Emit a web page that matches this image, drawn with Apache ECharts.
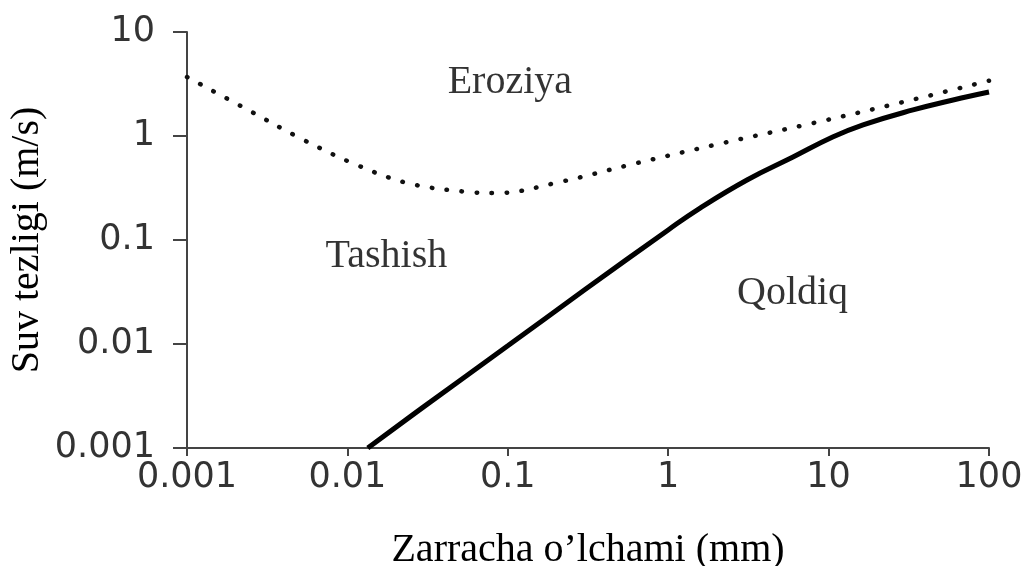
<!DOCTYPE html>
<html>
<head>
<meta charset="utf-8">
<title>Suv tezligi va zarracha o'lchami</title>
<script src="https://cdn.jsdelivr.net/npm/echarts@6/dist/echarts.min.js"></script>
<style>
  html, body { margin: 0; padding: 0; background: #fff; }
  #chart { width: 1033px; height: 566px; }
</style>
</head>
<body>
<div id="chart"></div>
<script>
// Particle size (mm) and water velocity (m/s), both on log scales.
const xTickLabels = ['0.001', '0.01', '0.1', '1', '10', '100'];
const yTickLabels = ['0.001', '0.01', '0.1', '1', '10'];

// Erosion threshold (dotted curve): [size, velocity]
const erosionCurve = [
  [0.001, 3.69], [0.00247, 1.74], [0.00492, 0.977], [0.0107, 0.55],
  [0.0236, 0.353], [0.0557, 0.29], [0.0869, 0.283], [0.211, 0.361],
  [0.604, 0.538], [2.2, 0.857], [8.0, 1.33], [29.1, 2.12], [100, 3.4]
];

// Deposition threshold (solid curve): [size, velocity]
const depositionCurve = [
  [0.0134, 0.001], [0.03, 0.0025], [0.1, 0.0096], [0.3, 0.033],
  [1, 0.125], [1.58, 0.203], [3.1, 0.378], [6.0, 0.628],
  [10.6, 0.977], [16.4, 1.28], [33.6, 1.78], [59.7, 2.22], [100, 2.65]
];

// Region names placed at [size, velocity]
const regionNames = ['Eroziya', 'Tashish', 'Qoldiq'];
const regionPositions = [[0.103, 3.24], [0.0175, 0.07], [5.96, 0.0303]];

const xName = 'Zarracha o\u2019lchami (mm)';
const yName = 'Suv tezligi (m/s)';

const serif = '"Liberation Serif", "Times New Roman", serif';
const sans = '"DejaVu Sans", sans-serif';

function tickText(labels, offset) {
  return function (v) {
    const i = Math.round(Math.log10(v)) + offset;
    return labels[i] !== undefined ? labels[i] : '';
  };
}

const chart = echarts.init(document.getElementById('chart'), null, { renderer: 'canvas' });

chart.setOption({
  animation: false,
  backgroundColor: '#ffffff',
  grid: { left: 187, right: 44, top: 32, bottom: 118, outerBoundsMode: 'none' },
  xAxis: {
    type: 'log',
    logBase: 10,
    min: 0.001,
    max: 100,
    name: xName,
    nameLocation: 'middle',
    nameGap: 82,
    nameMoveOverlap: false,
    nameTextStyle: { fontFamily: serif, fontSize: 40, color: '#000' },
    axisLine: { show: true, lineStyle: { color: '#444', width: 2 } },
    axisTick: { show: true, length: 8, lineStyle: { color: '#444', width: 2 } },
    minorTick: { show: false },
    splitLine: { show: false },
    axisLabel: {
      margin: 12,
      fontFamily: sans,
      fontSize: 35,
      color: '#333',
      formatter: tickText(xTickLabels, 3)
    }
  },
  yAxis: {
    type: 'log',
    logBase: 10,
    min: 0.001,
    max: 10,
    name: yName,
    nameLocation: 'middle',
    nameRotate: 90,
    nameGap: 140,
    nameMoveOverlap: false,
    nameTextStyle: { fontFamily: serif, fontSize: 40, color: '#000' },
    axisLine: { show: true, lineStyle: { color: '#444', width: 2 } },
    axisTick: { show: true, length: 14, lineStyle: { color: '#444', width: 2 } },
    minorTick: { show: false },
    splitLine: { show: false },
    axisLabel: {
      margin: 32,
      fontFamily: sans,
      fontSize: 35,
      color: '#333',
      formatter: tickText(yTickLabels, 3)
    }
  },
  series: [
    {
      name: 'Eroziya chegarasi',
      type: 'line',
      data: erosionCurve,
      smooth: 0.35,
      showSymbol: false,
      symbol: 'none',
      lineStyle: { color: '#111', width: 4.5, type: [0.5, 14.5], cap: 'round' },
      z: 3
    },
    {
      name: 'Qoldiq chegarasi',
      type: 'line',
      data: depositionCurve,
      smooth: 0.45,
      showSymbol: false,
      symbol: 'none',
      lineStyle: { color: '#000', width: 5 },
      z: 4
    },
    {
      name: 'Hududlar',
      type: 'scatter',
      symbolSize: 0,
      silent: true,
      data: regionPositions.map((p, i) => ({ value: p, name: regionNames[i] })),
      label: {
        show: true,
        position: 'inside',
        formatter: '{b}',
        fontFamily: serif,
        fontSize: 40,
        color: '#000'
      },
      z: 5
    }
  ]
});
</script>
</body>
</html>
